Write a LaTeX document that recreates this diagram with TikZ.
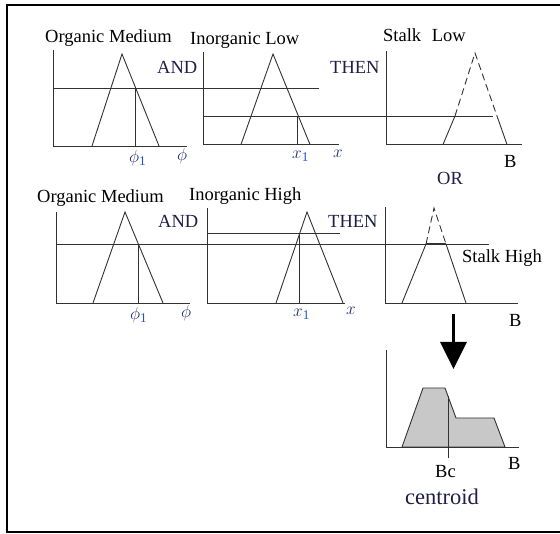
\documentclass[tikz,border=0pt]{standalone}
\usepackage{fontspec}
\setmainfont{Liberation Serif}
\usetikzlibrary{arrows.meta}
\definecolor{ln}{RGB}{50,50,50}
\definecolor{lab}{RGB}{35,45,110}
\definecolor{sub}{RGB}{30,90,190}
\definecolor{kw}{RGB}{30,30,70}
\definecolor{fillg}{RGB}{200,200,200}
\tikzset{
  ax/.style={draw=ln, line width=0.9pt},
  mf/.style={draw=ln, line width=0.9pt},
  dsh/.style={draw=ln, line width=0.9pt, dash pattern=on 7pt off 4pt},
  ttl/.style={anchor=base west, inner sep=0pt, font=\fontsize{18.5}{20}\selectfont, text=black},
  kwd/.style={anchor=base west, inner sep=0pt, font=\fontsize{18.5}{20}\selectfont, text=kw},
  var/.style={anchor=base west, inner sep=0pt, font=\fontsize{19}{20}\selectfont, text=lab},
}
\newcommand{\sone}{\textcolor{sub}{\mathrm{1}}}
\begin{document}
\begin{tikzpicture}[x=1pt,y=-1pt]
\useasboundingbox (0,0) rectangle (560,534);
% frame
\draw[line width=2.5pt, black] (560,5) -- (7,5) -- (7,532) -- (560,532);

% ===== Row 1 =====
\node[ttl] (t11) at (45,43) {Organic Medium};
\node[ttl] (t12) at (190,45) {Inorganic Low};
\node[ttl] (t13) at (383,42) {Stalk\hspace{6pt} Low};
\node[kwd] (and1) at (157,74) {AND};
\node[kwd] (then1) at (330,74) {THEN};
\node[kwd] (or) at (437,185) {OR};

% graph 1,1
\draw[ax] (53,50) -- (53,146) -- (187,146);
\draw[mf] (92,146) -- (122,54) -- (159,146);
\draw[mf] (53,88) -- (319,88);
\draw[mf] (135.7,88) -- (135.7,146);
\node[var] (p11) at (129,163) {$\phi_{\sone}$};
\node[var] (p12) at (177,161) {$\phi$};

% graph 1,2
\draw[ax] (203,52) -- (203,144.5) -- (339,144.5);
\draw[mf] (241,144.5) -- (273,54) -- (310,144.5);
\draw[mf] (203,116) -- (493,116);
\draw[mf] (297,116) -- (297,144.5);
\node[var] (x11) at (292,159) {$x_{\sone}$};
\node[var] (x12) at (333,158) {$x$};

% graph 1,3
\draw[ax] (386.7,51) -- (386.7,144.5) -- (522,144.5);
\draw[mf] (455,116) -- (443,144.5);
\draw[mf] (497,116) -- (507,144.5);
\draw[dsh] (455,116) -- (475,53) -- (497,116);
\node[ttl] (b1) at (504,168) {B};

% ===== Row 2 =====
\node[ttl] (t21) at (37,203) {Organic Medium};
\node[ttl] (t22) at (189,201) {Inorganic High};
\node[ttl] (t23) at (462,263) {Stalk High};
\node[kwd] (and2) at (158,228) {AND};
\node[kwd] (then2) at (328,228) {THEN};

% graph 2,1
\draw[ax] (56,212) -- (56,303) -- (190,303);
\draw[mf] (93,303) -- (125,212) -- (163,303);
\draw[mf] (56,244) -- (489,244);
\draw[mf] (138,244) -- (138,303);
\node[var] (p21) at (130,320) {$\phi_{\sone}$};
\node[var] (p22) at (181,318) {$\phi$};

% graph 2,2
\draw[ax] (207,208) -- (207,303) -- (345,303);
\draw[mf] (276,303) -- (307,212) -- (343,303);
\draw[mf] (207,233) -- (340,233);
\draw[mf] (299.5,233) -- (299.5,303);
\node[var] (x21) at (293,317) {$x_{\sone}$};
\node[var] (x22) at (346,315) {$x$};

% graph 2,3
\draw[ax] (385,207) -- (385,303) -- (518,303);
\draw[mf] (426,244) -- (402,303);
\draw[mf] (446,244) -- (466,303);
\draw[dsh] (426,244) -- (434,208) -- (446,244);
\draw[ln, line width=2.2pt] (426,244) -- (446,244);
\node[ttl] (b2) at (509,327) {B};

% arrow
\coordinate (atop) at (453.5,314);
\coordinate (atip) at (453.5,369);
\draw[black, line width=3.5pt, -{Triangle[width=26pt,length=27pt]}] (atop) -- (atip);

% centroid graph
\draw[mf, fill=fillg] (402,447) -- (423,388) -- (445,388) -- (456,418) -- (494,418) -- (505,447) -- cycle;
\draw[ax] (386,350) -- (386,447) -- (519,447);
\draw[mf] (448,396) -- (448,458);
\node[ttl] (bc) at (435,478) {Bc};
\node[ttl] (b3) at (508,470) {B};
\node[kwd, font=\fontsize{22.5}{24}\selectfont] (cen) at (405,505) {centroid};
\end{tikzpicture}
\end{document}
